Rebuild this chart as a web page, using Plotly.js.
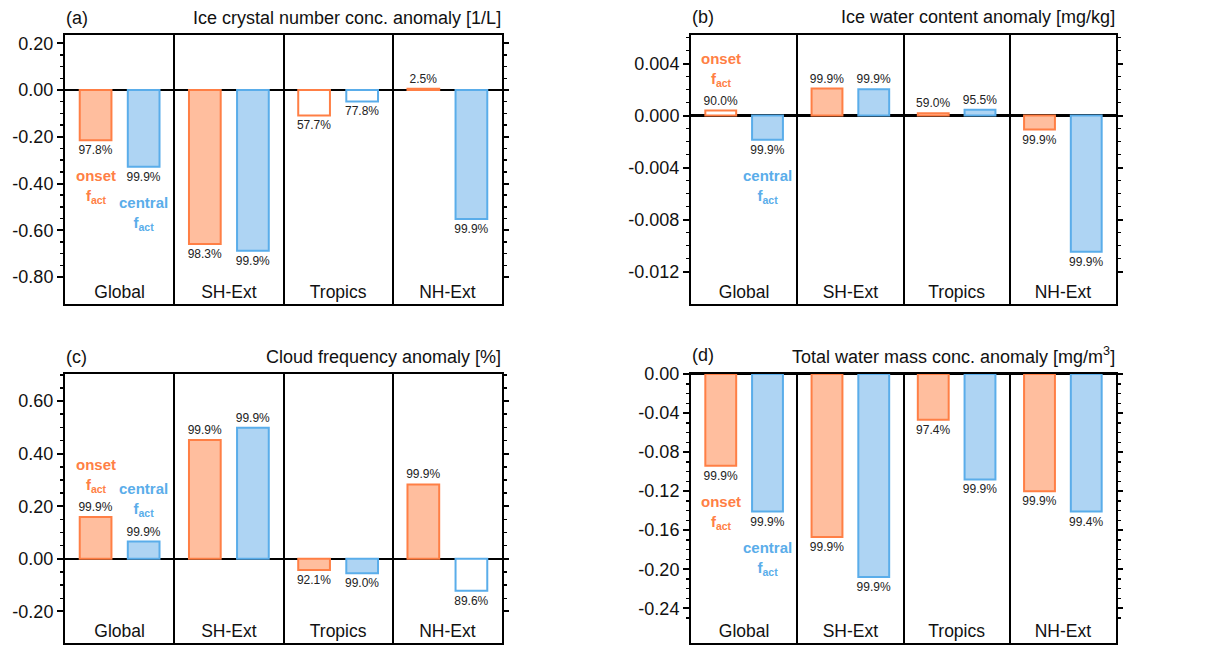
<!DOCTYPE html>
<html>
<head>
<meta charset="utf-8">
<script src="https://cdn.plot.ly/plotly-3.0.1.min.js"></script>
<style>html,body{margin:0;padding:0;background:#fff;}#chart{width:1218px;height:645px;}</style>
</head>
<body>
<div id="chart"></div>
<script>
// ---- data ----
var regions = ['Global', 'SH-Ext', 'Tropics', 'NH-Ext'];

var aOnset   = [-0.215, -0.659, -0.109, 0.005];
var aCentral = [-0.328, -0.687, -0.049, -0.552];
var aOnsetSig   = [97.8, 98.3, 57.7, 2.5];
var aCentralSig = [99.9, 99.9, 77.8, 99.9];

var bOnset   = [0.00039, 0.00208, 0.00018, -0.00108];
var bCentral = [-0.00187, 0.00203, 0.00044, -0.01048];
var bOnsetSig   = [90.0, 99.9, 59.0, 99.9];
var bCentralSig = [99.9, 99.9, 95.5, 99.9];

var cOnset   = [0.159, 0.452, -0.042, 0.283];
var cCentral = [0.066, 0.499, -0.055, -0.121];
var cOnsetSig   = [99.9, 99.9, 92.1, 99.9];
var cCentralSig = [99.9, 99.9, 99.0, 89.6];

var dOnset   = [-0.094, -0.167, -0.047, -0.120];
var dCentral = [-0.141, -0.208, -0.108, -0.141];
var dOnsetSig   = [99.9, 99.9, 97.4, 99.9];
var dCentralSig = [99.9, 99.9, 99.9, 99.4];

var aTicks = [0.2, 0.0, -0.2, -0.4, -0.6, -0.8];
var bTicks = [0.004, 0.0, -0.004, -0.008, -0.012];
var cTicks = [0.6, 0.4, 0.2, 0.0, -0.2];
var dTicks = [0.0, -0.04, -0.08, -0.12, -0.16, -0.20, -0.24];

var titles = ['Ice crystal number conc. anomaly [1/L]', 'Ice water content anomaly [mg/kg]',
              'Cloud frequency anomaly [%]', 'Total water mass conc. anomaly [mg/m<sup>3</sup>]'];
var panelTags = ['(a)', '(b)', '(c)', '(d)'];

// ---- style ----
var ORANGE = '#FF7F45', ORANGE_FILL = '#FFBE9E';
var BLUE = '#5AADEA', BLUE_FILL = '#AED4F3';
var SIG_LEVEL = 90;
var FONT = 'Liberation Sans, Arial, sans-serif';

function barTrace(vals, sig, xa, ya, line, fill) {
  return {
    type: 'bar', x: regions, y: vals, xaxis: xa, yaxis: ya,
    marker: {color: sig.map(function (p) { return p > SIG_LEVEL ? fill : '#ffffff'; }),
             line: {color: line, width: 2}},
    text: sig.map(function (p) { return p.toFixed(1) + '%'; }),
    textposition: 'outside', constraintext: 'none', cliponaxis: false,
    textfont: {family: FONT, size: 12, color: '#222'},
    hoverinfo: 'skip', showlegend: false
  };
}
// invisible helper so the right-hand tick axis is drawn
function ghost(vals, xa, ya) {
  return {type: 'scatter', mode: 'markers', x: regions, y: vals, xaxis: xa, yaxis: ya,
          marker: {opacity: 0, size: 1}, hoverinfo: 'skip', showlegend: false};
}

var data = [
  barTrace(aOnset, aOnsetSig, 'x', 'y', ORANGE, ORANGE_FILL),
  barTrace(aCentral, aCentralSig, 'x', 'y', BLUE, BLUE_FILL),
  barTrace(bOnset, bOnsetSig, 'x2', 'y2', ORANGE, ORANGE_FILL),
  barTrace(bCentral, bCentralSig, 'x2', 'y2', BLUE, BLUE_FILL),
  barTrace(cOnset, cOnsetSig, 'x3', 'y3', ORANGE, ORANGE_FILL),
  barTrace(cCentral, cCentralSig, 'x3', 'y3', BLUE, BLUE_FILL),
  barTrace(dOnset, dOnsetSig, 'x4', 'y4', ORANGE, ORANGE_FILL),
  barTrace(dCentral, dCentralSig, 'x4', 'y4', BLUE, BLUE_FILL),
  ghost(aOnset, 'x', 'y5'), ghost(bOnset, 'x2', 'y6'),
  ghost(cOnset, 'x3', 'y7'), ghost(dOnset, 'x4', 'y8')
];

var W = 1218, H = 645;
function px(x) { return x / W; }
function py(y) { return 1 - y / H; }

function xax(d0, d1, anchor) {
  return {
    domain: [px(d0), px(d1)], anchor: anchor, type: 'category',
    showline: true, linecolor: 'black', linewidth: 2, mirror: true,
    ticks: '', showgrid: true, gridcolor: 'black', gridwidth: 2, tickson: 'boundaries',
    ticklabelposition: 'inside', ticklabelstandoff: 3,
    tickfont: {family: FONT, size: 17.5, color: '#111'},
    fixedrange: true
  };
}
function yax(t0, t1, anchor, range, ticks, dec, minor) {
  return {
    domain: [py(t1), py(t0)], anchor: anchor, range: range,
    tickmode: 'array', tickvals: ticks, ticktext: ticks.map(function (v) { return v.toFixed(dec); }),
    ticks: 'outside', ticklen: 6, tickwidth: 2, tickcolor: 'black',
    showline: true, linecolor: 'black', linewidth: 2, mirror: true,
    zeroline: true, zerolinecolor: 'black', zerolinewidth: 2.5, showgrid: false,
    minor: {tickmode: 'linear', tick0: 0, dtick: minor, ticks: 'outside', ticklen: 3.5,
            tickwidth: 1.5, tickcolor: 'black', showgrid: false},
    tickfont: {family: FONT, size: 18, color: '#111'}, ticklabelstandoff: 0,
    fixedrange: true
  };
}
// right-hand tick marks (same scale, no labels)
function yRight(base, over, anchor) {
  var r = JSON.parse(JSON.stringify(base));
  r.overlaying = over; r.side = 'right'; r.anchor = anchor;
  r.showticklabels = false; r.zeroline = false; r.showline = false;
  delete r.domain;
  return r;
}

var panels = [
  {l: 65, r: 502, t: 35, b: 304, ty: 18},
  {l: 691, r: 1116, t: 35, b: 304, ty: 17},
  {l: 65, r: 502, t: 374, b: 643, ty: 357},
  {l: 691, r: 1116, t: 374, b: 643, ty: 355}
];

var annotations = [];
panels.forEach(function (p, i) {
  annotations.push({xref: 'paper', yref: 'paper', x: px(p.l - 1), y: py(p.ty), xanchor: 'left', yanchor: 'middle',
    text: panelTags[i], showarrow: false, font: {family: FONT, size: 18, color: '#111'}});
  annotations.push({xref: 'paper', yref: 'paper', x: px(p.r + 1), y: py(p.ty), xanchor: 'right', yanchor: 'middle',
    text: titles[i], showarrow: false, font: {family: FONT, size: 18, color: '#111'}});
});

function keyLabel(xa, ya, x, y, word, color) {
  return {xref: xa, yref: ya, x: x, y: y, xanchor: 'center', yanchor: 'top', showarrow: false,
    text: '<b>' + word + '</b><br><b>f<sub>act</sub></b>', align: 'center',
    font: {family: FONT, size: 15, color: color}};
}
annotations.push(keyLabel('x', 'y', -0.22, -0.322, 'onset', ORANGE));
annotations.push(keyLabel('x', 'y', 0.22, -0.437, 'central', BLUE));
annotations.push(keyLabel('x2', 'y2', -0.22, 0.0052, 'onset', ORANGE));
annotations.push(keyLabel('x2', 'y2', 0.22, -0.0038, 'central', BLUE));
annotations.push(keyLabel('x3', 'y3', -0.22, 0.398, 'onset', ORANGE));
annotations.push(keyLabel('x3', 'y3', 0.22, 0.307, 'central', BLUE));
annotations.push(keyLabel('x4', 'y4', -0.22, -0.1197, 'onset', ORANGE));
annotations.push(keyLabel('x4', 'y4', 0.22, -0.1669, 'central', BLUE));

var ya = yax(35, 304, 'x', [-0.915, 0.235], aTicks, 2, 0.05);
var yb = yax(35, 304, 'x2', [-0.0145, 0.0062], bTicks, 3, 0.001);
var yc = yax(374, 643, 'x3', [-0.32, 0.703], cTicks, 2, 0.05);
var yd = yax(374, 643, 'x4', [-0.2756, 0], dTicks, 2, 0.01);

var layout = {
  width: W, height: H, margin: {l: 0, r: 0, t: 0, b: 0},
  paper_bgcolor: 'white', plot_bgcolor: 'white',
  barmode: 'group', bargap: 0.12, bargroupgap: 0.34,
  showlegend: false,
  xaxis: xax(65, 502, 'y'), yaxis: ya,
  xaxis2: xax(691, 1116, 'y2'), yaxis2: yb,
  xaxis3: xax(65, 502, 'y3'), yaxis3: yc,
  xaxis4: xax(691, 1116, 'y4'), yaxis4: yd,
  yaxis5: yRight(ya, 'y', 'x'),
  yaxis6: yRight(yb, 'y2', 'x2'),
  yaxis7: yRight(yc, 'y3', 'x3'),
  yaxis8: yRight(yd, 'y4', 'x4'),
  annotations: annotations,
  font: {family: FONT}
};

Plotly.newPlot('chart', data, layout, {staticPlot: true, displayModeBar: false});
</script>
</body>
</html>
